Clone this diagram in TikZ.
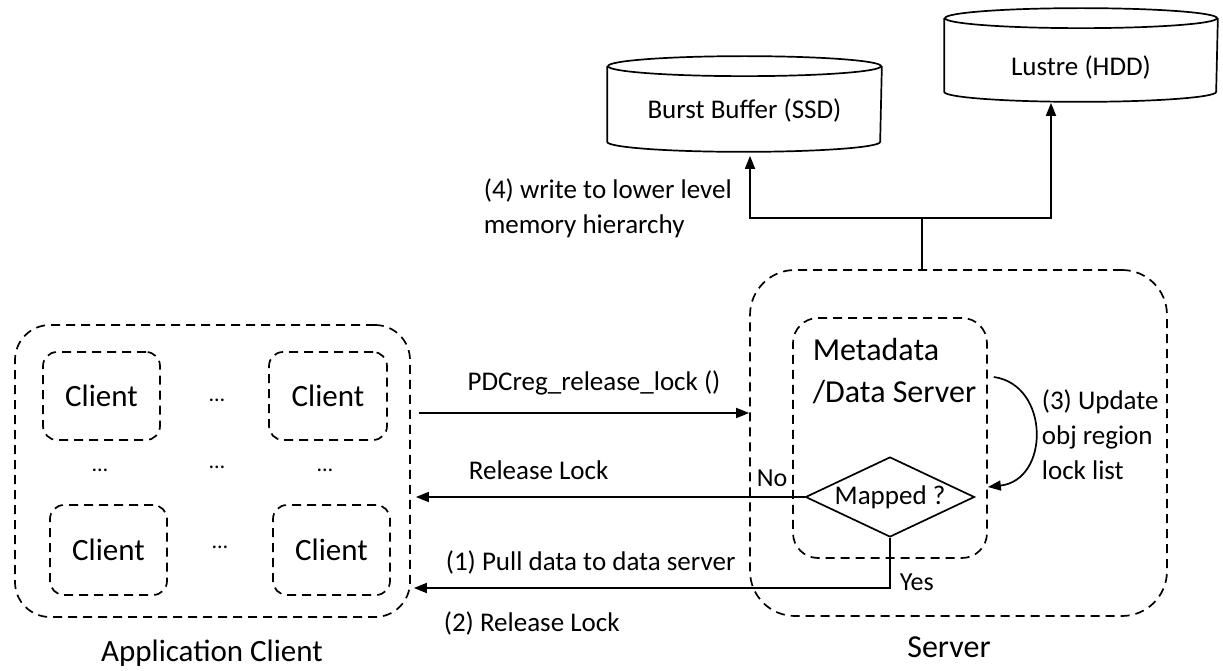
\documentclass[tikz,border=0pt]{standalone}
\usepackage{fontspec}
\setmainfont{Carlito}
\usetikzlibrary{shapes.geometric,arrows.meta,calc}
\begin{document}
\begin{tikzpicture}[x=1pt,y=1pt,
  line width=1.7pt,
  dbox/.style={draw, dash pattern=on 9pt off 6pt, rounded corners=#1, inner sep=0pt},
  dbox/.default=14pt,
  arr/.style={-{Triangle[length=13pt,width=10pt]}},
  lbl/.style={font=\fontsize{27}{35}\selectfont, inner sep=0pt},
  big/.style={font=\fontsize{31}{42}\selectfont, inner sep=0pt},
  dotsn/.style={font=\fontsize{22}{26}\selectfont, inner sep=0pt},
  cyl/.style={inner sep=0pt},
]
\useasboundingbox (0,0) rectangle (1223,-671);

% ---------- application client ----------
\node[dbox=35pt, minimum width=395pt, minimum height=292pt] (app) at (212.5,-471) {};
\node[dbox, big, minimum width=117pt, minimum height=88pt] (c1) at (101.5,-396) {Client};
\node[dbox, big, minimum width=118pt, minimum height=88pt] (c2) at (328,-396) {Client};
\node[dbox, big, minimum width=117pt, minimum height=90pt] (c3) at (108.5,-550) {Client};
\node[dbox, big, minimum width=117pt, minimum height=90pt] (c4) at (331.5,-550) {Client};
\node[dotsn] (d1) at (217,-400) {…};
\node[dotsn] (d2) at (100,-470) {…};
\node[dotsn] (d3) at (217,-467) {…};
\node[dotsn] (d4) at (325,-470) {…};
\node[dotsn] (d5) at (220,-547) {…};
\node[big] (appl) at (212,-653) {Application Client};

% ---------- server ----------
\node[dbox=45pt, minimum width=417pt, minimum height=346pt] (srv) at (958.5,-443) {};
\node[dbox=25pt, minimum width=194pt, minimum height=240pt] (mds) at (890,-438) {};
\node[big, font=\fontsize{32}{42}\selectfont, align=left, anchor=west] (mdst) at (812,-371) {Metadata\\/Data Server};
\node[draw, diamond, aspect=2.1, minimum width=169pt, minimum height=80pt, lbl] (map) at (890,-497) {Mapped ?};
\node[big, font=\fontsize{32}{42}\selectfont] (srvl) at (949,-647) {Server};

% ---------- storage ----------
\node[cyl, minimum width=273pt, minimum height=94pt] (bb) at (744.5,-104) {};
\draw ([yshift=-10pt]bb.north west) -- ([yshift=10pt]bb.south west)
  arc[start angle=180, end angle=360, x radius=136.5pt, y radius=10pt]
  -- ([yshift=-10pt]bb.north east);
\draw ([yshift=-10pt]bb.north) ellipse[x radius=136.5pt, y radius=10pt];
\node[lbl] (bbt) at (744.5,-110) {Burst Buffer (SSD)};

\node[cyl, minimum width=272pt, minimum height=92pt] (lu) at (1081,-55) {};
\draw ([yshift=-10pt]lu.north west) -- ([yshift=10pt]lu.south west)
  arc[start angle=180, end angle=360, x radius=136pt, y radius=10pt]
  -- ([yshift=-10pt]lu.north east);
\draw ([yshift=-10pt]lu.north) ellipse[x radius=136pt, y radius=10pt];
\node[lbl] (lut) at (1081,-67) {Lustre (HDD)};

% ---------- connectors ----------
\coordinate (split) at (922,-218);
\draw (srv.north -| split) -- (split);
\draw[arr] (split) -| ([xshift=5.5pt,yshift=-4pt]bb.south);
\draw[arr] (split) -| ([xshift=-30pt,yshift=-1pt]lu.south);
\node[lbl, align=left, anchor=west] (l4) at (483,-208.5) {(4) write to lower level\\memory hierarchy};

\coordinate (yA) at (0,-413);
\coordinate (yB) at (0,-588);
\draw[arr, shorten <=8pt] (app.east |- yA) -- (srv.west |- yA);
\node[lbl] (lpdc) at (594,-383) {PDCreg\_release\_lock ()};

\draw[arr, shorten >=5pt] (map.west) -- (app.east |- map.west);
\node[lbl, anchor=west] (lrel) at (468,-470) {Release Lock};
\node[lbl, font=\fontsize{26}{30}\selectfont] (lno) at (772,-478) {No};

\draw[arr, shorten >=3pt] (map.south) |- (app.east |- yB);
\node[lbl, anchor=west] (lpull) at (445,-562) {(1) Pull data to data server};
\node[lbl, anchor=west] (lrel2) at (443,-623) {(2) Release Lock};
\node[lbl, font=\fontsize{26}{30}\selectfont, anchor=west] (lyes) at (899,-582) {Yes};

\draw[arr] ([shift={(6pt,61pt)}]mds.east) .. controls (1050,-385) and (1050,-480) .. ([yshift=-49pt]mds.east);
\node[lbl, align=left, anchor=west] (l3) at (1041,-435) {(3) Update\\obj region\\lock list};
\end{tikzpicture}
\end{document}
